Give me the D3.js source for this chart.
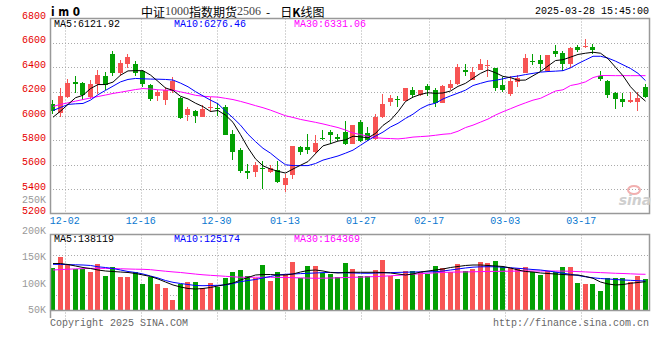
<!DOCTYPE html>
<html><head><meta charset="utf-8">
<script src="https://cdn.jsdelivr.net/npm/d3@7"></script>
<style>body{margin:0;background:#fff}svg{display:block}</style>
</head><body><svg id="c" width="660" height="360"></svg>
<script>
const dates = ["11-28","11-29","12-02","12-03","12-04","12-05","12-06","12-09","12-10","12-11",
"12-12","12-13","12-16","12-17","12-18","12-19","12-20","12-23","12-24","12-25",
"12-26","12-27","12-30","12-31","01-02","01-03","01-06","01-07","01-08","01-09",
"01-10","01-13","01-14","01-15","01-16","01-17","01-20","01-21","01-22","01-23",
"01-24","01-27","02-05","02-06","02-07","02-10","02-11","02-12","02-13","02-14",
"02-17","02-18","02-19","02-20","02-21","02-24","02-25","02-26","02-27","02-28",
"03-03","03-04","03-05","03-06","03-07","03-10","03-11","03-12","03-13","03-14",
"03-17","03-18","03-19","03-20","03-21","03-24","03-25","03-26","03-27","03-28"];
const open = [6098,6027,6152,6279,6271,6157,6261,6326,6505,6352,
6423,6423,6369,6252,6163,6130,6206,6147,6012,6043,
5994,6063,6065,6076,5851,5723,5552,5538,5574,5540,
5560,5434,5512,5742,5742,5703,5821,5866,5825,5866,
5772,5954,5859,5810,5989,6116,6142,6125,6217,6171,
6244,6212,6108,6226,6261,6380,6299,6380,6407,6396,
6252,6179,6279,6352,6450,6462,6369,6532,6515,6429,
6564,6564,6570,6326,6287,6190,6136,6116,6116,6234];
const high = [6130,6226,6300,6326,6279,6293,6374,6358,6537,6462,
6505,6450,6377,6266,6217,6239,6320,6157,6073,6051,
6090,6155,6103,6090,5886,5737,5609,5626,5628,5601,
5631,5524,5757,5753,5852,5845,5886,5884,5851,5959,
5930,5967,5908,6016,6179,6171,6163,6228,6234,6217,
6266,6226,6252,6299,6423,6423,6401,6470,6462,6396,
6320,6326,6334,6505,6505,6497,6497,6586,6532,6570,
6586,6633,6592,6369,6299,6198,6185,6198,6198,6266];
const low = [6016,5989,6150,6187,6130,6136,6183,6212,6332,6326,
6396,6326,6242,6122,6122,6090,6191,5973,5962,5945,
5992,6035,6002,5845,5638,5534,5479,5503,5398,5534,
5452,5377,5479,5682,5685,5685,5805,5772,5792,5764,
5768,5788,5791,5805,5985,6081,6076,6122,6144,6163,
6163,6071,6108,6217,6252,6326,6297,6374,6320,6206,
6198,6163,6234,6352,6415,6369,6369,6483,6369,6396,
6523,6559,6505,6287,6144,6055,6071,6108,6043,6144];
const close = [6043,6163,6271,6266,6171,6261,6334,6258,6352,6434,
6483,6352,6266,6136,6198,6216,6287,5984,6059,6000,
6055,6076,6057,5848,5703,5552,5534,5601,5566,5571,
5457,5493,5757,5703,5721,5780,5813,5848,5810,5770,
5927,5791,5805,5994,6098,6144,6134,6226,6171,6212,
6212,6108,6244,6261,6401,6361,6361,6429,6415,6228,
6212,6287,6315,6478,6440,6429,6497,6505,6429,6559,
6543,6578,6543,6307,6171,6136,6116,6130,6144,6152];
const ma5 = [5990,6040,6095,6150,6170,6225,6258,6258,6278,6335,
6370,6372,6372,6336,6284,6230,6210,6162,6140,6105,
6077,6037,6045,6007,5948,5847,5739,5648,5591,5565,
5546,5532,5565,5596,5626,5691,5755,5773,5794,5804,
5834,5829,5821,5857,5923,5966,6035,6119,6155,6177,
6191,6186,6189,6205,6243,6268,6310,6350,6378,6355,
6325,6315,6293,6295,6330,6365,6410,6455,6462,6483,
6505,6515,6523,6515,6470,6400,6330,6240,6175,6122];
const ma10 = [6045,6070,6095,6100,6103,6130,6175,6210,6245,6280,
6300,6308,6305,6303,6302,6300,6295,6270,6240,6200,
6165,6130,6100,6040,5985,5925,5850,5790,5735,5695,
5645,5600,5593,5593,5593,5610,5638,5655,5672,5695,
5720,5760,5800,5835,5868,5910,5940,5980,6015,6060,
6090,6105,6140,6165,6188,6212,6250,6268,6285,6293,
6305,6320,6328,6340,6350,6360,6365,6368,6372,6395,
6430,6460,6490,6490,6475,6450,6420,6390,6350,6290];
const ma30 = [6078,6095,6108,6122,6135,6148,6160,6172,6185,6195,
6206,6217,6225,6222,6215,6212,6212,6198,6185,6170,
6162,6158,6155,6145,6135,6120,6103,6085,6068,6048,
6025,6002,5988,5972,5960,5948,5935,5920,5905,5885,
5860,5848,5833,5822,5817,5815,5812,5818,5827,5831,
5835,5842,5850,5855,5875,5905,5925,5950,5975,6008,
6035,6060,6085,6108,6130,6145,6175,6205,6215,6250,
6262,6280,6315,6332,6332,6331,6331,6331,6331,6331];
const volume = [130900,151600,137300,128500,128500,123400,137900,115900,132200,114000,
114000,122300,100300,114000,100300,93300,70100,99700,104600,104600,
92200,102100,95200,111000,123400,126600,115300,111000,136000,106500,
123400,119100,142200,111000,134100,134100,120400,118500,114000,140300,
128500,115300,115300,126600,145400,115300,109700,124700,124700,122300,
118500,134100,130900,123400,137900,124700,128500,141700,140300,143500,
132800,129800,129800,132800,122300,117200,124700,123400,132200,132200,
102100,100300,100300,87100,111000,111000,111000,103400,115300,109700];
const vma5 = [138800,138800,136900,134100,131300,129400,126600,124700,123800,122800,
121900,120000,117200,114400,109700,104000,98400,94600,91800,90800,
91800,93700,96500,99300,102100,107800,112500,117200,118100,118100,
117200,117200,119100,122800,125700,126600,124700,121900,121000,121900,
122300,122300,122300,122300,121900,121000,119100,117200,119100,122800,
124700,126600,128500,131300,133200,135100,136000,136000,135100,134100,
133200,130400,126600,123800,122800,121000,120000,119100,118100,117200,
117200,114400,111000,104000,100300,98400,99300,101600,103100,104600];
const vma10 = [137300,137100,136700,136400,136000,135100,132600,131300,129400,126600,
123800,121900,119100,115300,111600,106800,103400,101200,99300,97400,
97100,97400,97800,98400,101200,104600,106800,108700,111600,114400,
117500,118500,119100,119800,120400,121000,121700,122100,121700,121300,
121000,120600,120400,120800,121300,121700,122100,122400,122800,123000,
123200,123400,124700,126600,128500,130400,131900,132600,132800,132600,
131900,130900,129800,128700,127500,126600,124700,122800,120600,118500,
116300,113800,111900,110600,109700,108700,107800,107200,106400,105900];
const vma30 = [126600,127400,128100,128700,129200,129600,129800,129600,129200,128900,
128500,128100,127900,127200,125700,124300,123000,121900,120400,118900,
117600,116600,115700,114700,113800,113000,112900,112900,112900,112900,
112700,112500,112100,111700,111400,111000,111200,111500,111900,112500,
112900,113200,113800,114200,114900,115700,116600,117600,118700,119600,
120600,121300,122100,122500,122800,123000,123200,123600,123800,124000,
124200,124300,124500,124700,124700,124700,124700,124700,124500,124200,
123600,123000,122300,121700,121100,120400,120000,119400,118800,118500];
const priceTicks = [6800,6600,6400,6200,6000,5800,5600,5400,5200];
const volTicks = [200000,150000,100000,50000];
const volTickLabels = ["200K","150K","100K","50K"];
const dateTicks = ["12-02","12-16","12-30","01-13","01-27","02-17","03-03","03-17"];
const priceLegend = [["MA5:6121.92","#000"],["MA10:6276.46","#0000ff"],["MA30:6331.06","#ff00ff"]];
const volLegend = [["MA5:138119","#000"],["MA10:125174","#0000ff"],["MA30:164369","#ff00ff"]];

const N = dates.length;
const svg = d3.select("#c");
const MONO = "'Liberation Mono','DejaVu Sans Mono',monospace";
const UP = "#f75454", DOWN = "#03a003", GRID = "#aaa", FRAME = "#999";
const L = 50, R = 650, pTop = 18.5, pBot = 213.5, vTop = 234.5, vBase = 310.5;

const x = d3.scaleBand().domain(d3.range(N)).range([49.25, 649.25]).paddingInner(0.2).paddingOuter(0.1);
const gx = d3.scaleLinear().domain([0, N - 1]).range([49.5, 649.5]);
const y = d3.scaleLinear().domain([5200, 6800]).range([pBot, pTop]);
const vy = d3.scaleLinear().domain([50000, 200000]).range([310.7, 231]);
const cx = i => x(i) + x.bandwidth() / 2;

svg.append("rect").attr("width", 660).attr("height", 360).attr("fill", "#fff");

const g = svg.append("g");
g.selectAll(".hg").data(priceTicks.slice(1, -1)).join("line")
  .attr("x1", L).attr("x2", R)
  .attr("y1", d => Math.round(y(d)) + 0.5).attr("y2", d => Math.round(y(d)) + 0.5)
  .attr("stroke", GRID).attr("stroke-dasharray", "1,2");
const tickIdx = dateTicks.map(d => dates.indexOf(d));
g.selectAll(".vg").data(tickIdx).join("line")
  .attr("x1", d => Math.round(gx(d)) + 0.5).attr("x2", d => Math.round(gx(d)) + 0.5)
  .attr("y1", pTop).attr("y2", pBot)
  .attr("stroke", GRID).attr("stroke-dasharray", "1,2");
g.selectAll(".vg2").data(tickIdx).join("line")
  .attr("x1", d => Math.round(gx(d)) + 0.5).attr("x2", d => Math.round(gx(d)) + 0.5)
  .attr("y1", vTop).attr("y2", 320)
  .attr("stroke", GRID).attr("stroke-dasharray", "1,2");
g.selectAll(".hg2").data([vTop + 21, vTop + 61]).join("line")
  .attr("x1", L).attr("x2", R).attr("y1", d => d).attr("y2", d => d)
  .attr("stroke", GRID).attr("stroke-dasharray", "1,2");

const idx = d3.range(N);
const cg = svg.append("g");
const col = i => close[i] >= open[i] ? UP : DOWN;
cg.selectAll(".wick").data(idx).join("rect")
  .attr("x", i => Math.round(x(i)) + 2).attr("width", 1)
  .attr("y", i => Math.round(y(high[i])))
  .attr("height", i => Math.max(1, Math.round(y(low[i])) - Math.round(y(high[i]))))
  .attr("fill", col);
cg.selectAll(".body").data(idx).join("rect")
  .attr("x", i => Math.round(x(i))).attr("width", Math.round(x.bandwidth()) - 1)
  .attr("y", i => Math.round(y(Math.max(open[i], close[i]))))
  .attr("height", i => Math.max(1, Math.round(y(Math.min(open[i], close[i]))) - Math.round(y(Math.max(open[i], close[i])))))
  .attr("fill", col);

const line = arr => d3.line().x((d, i) => cx(i)).y(d => y(d))(arr);
[[ma30, "#ff00ff"], [ma10, "#0000ff"], [ma5, "#000"]].forEach(([a, c]) => {
  svg.append("path").attr("d", line(a)).attr("fill", "none").attr("stroke", c).attr("stroke-width", 1);
});

svg.append("g").selectAll("rect").data(idx).join("rect")
  .attr("x", i => Math.round(x(i))).attr("width", Math.round(x.bandwidth()) - 1)
  .attr("y", i => Math.round(vy(volume[i])))
  .attr("height", i => vBase - Math.round(vy(volume[i])))
  .attr("fill", col);
const vline = arr => d3.line().x((d, i) => cx(i)).y(d => vy(d))(arr);
[[vma30, "#ff00ff"], [vma10, "#0000ff"], [vma5, "#000"]].forEach(([a, c]) => {
  svg.append("path").attr("d", vline(a)).attr("fill", "none").attr("stroke", c).attr("stroke-width", 1);
});

svg.append("rect").attr("x", L + 0.5).attr("y", pTop).attr("width", R - L - 1).attr("height", pBot - pTop)
  .attr("fill", "none").attr("stroke", FRAME).attr("stroke-width", 1.5);
svg.append("rect").attr("x", L + 0.5).attr("y", vTop).attr("width", R - L - 1).attr("height", vBase - vTop)
  .attr("fill", "none").attr("stroke", FRAME).attr("stroke-width", 1.5);
svg.append("line").attr("x1", L + 0.5).attr("x2", L + 0.5).attr("y1", vBase).attr("y2", 318).attr("stroke", FRAME).attr("stroke-width", 1.5);

svg.append("g").selectAll("text").data(priceTicks).join("text")
  .attr("x", 46).attr("y", d => y(d) - 2).attr("text-anchor", "end").attr("dominant-baseline", "central")
  .attr("font-family", MONO).attr("font-size", 10).attr("fill", "#e60000").text(d => d);
svg.append("text").attr("x", 46).attr("y", 200).attr("text-anchor", "end").attr("dominant-baseline", "central")
  .attr("font-family", MONO).attr("font-size", 10).attr("fill", "#999").text("250K");
svg.append("g").selectAll("text").data(volTicks).join("text")
  .attr("x", 46).attr("y", d => vy(d)).attr("text-anchor", "end").attr("dominant-baseline", "central")
  .attr("font-family", MONO).attr("font-size", 10).attr("fill", "#999").text((d, i) => volTickLabels[i]);
svg.append("g").selectAll("text").data(tickIdx).join("text")
  .attr("x", d => gx(d)).attr("y", 221).attr("text-anchor", "middle").attr("dominant-baseline", "central")
  .attr("font-family", MONO).attr("font-size", 10).attr("fill", "#0a78d0").text(d => dates[d]);

const legX = [54, 174, 294];
svg.append("g").selectAll("text").data(priceLegend).join("text")
  .attr("x", (d, i) => legX[i]).attr("y", 24).attr("dominant-baseline", "central")
  .attr("font-family", MONO).attr("font-size", 10).attr("fill", d => d[1]).text(d => d[0]);
svg.append("g").selectAll("text").data(volLegend).join("text")
  .attr("x", (d, i) => legX[i]).attr("y", 239).attr("dominant-baseline", "central")
  .attr("font-family", MONO).attr("font-size", 10).attr("fill", d => d[1]).text(d => d[0]);

svg.append("text").attr("x", 51).attr("y", 11.5).attr("dominant-baseline", "central")
  .attr("font-family", "'DejaVu Sans',sans-serif").attr("font-weight", "bold").attr("font-size", 12)
  .attr("textLength", 29).attr("lengthAdjust", "spacingAndGlyphs").attr("fill", "#000").text("i m 0");
const t = svg.append("text").attr("x", 141).attr("y", 10.5).attr("dominant-baseline", "central")
  .attr("font-family", "'Noto Sans CJK SC',sans-serif").attr("font-size", 12).attr("fill", "#000");
t.append("tspan").text("中证");
t.append("tspan").attr("font-family", "'Liberation Serif',serif").attr("fill", "#444").text("1000");
t.append("tspan").text("指数期货");
t.append("tspan").attr("font-family", "'Liberation Serif',serif").attr("fill", "#444").text("2506");
t.append("tspan").attr("dx", 5).text("-");
t.append("tspan").attr("dx", 10).text("日");
t.append("tspan").attr("font-weight", "bold").text("K");
t.append("tspan").text("线图");
svg.append("text").attr("x", 649).attr("y", 11.5).attr("text-anchor", "end").attr("dominant-baseline", "central")
  .attr("font-family", MONO).attr("font-size", 10).attr("fill", "#000").text("2025-03-28 15:45:00");

svg.append("text").attr("x", 50).attr("y", 323.5).attr("dominant-baseline", "central")
  .attr("font-family", MONO).attr("font-size", 10).attr("fill", "#666").text("Copyright 2025 SINA.COM");
svg.append("text").attr("x", 649).attr("y", 323.5).attr("text-anchor", "end").attr("dominant-baseline", "central")
  .attr("font-family", MONO).attr("font-size", 10).attr("fill", "#666").text("http://finance.sina.com.cn");

svg.append("ellipse").attr("cx", 634).attr("cy", 190).attr("rx", 6).attr("ry", 4)
  .attr("fill", "none").attr("stroke", "#f2b0b0").attr("stroke-width", 2);
svg.append("text").attr("x", 635).attr("y", 200).attr("text-anchor", "middle").attr("dominant-baseline", "central")
  .attr("font-family", "'DejaVu Sans',sans-serif").attr("font-style", "italic").attr("font-weight", "bold")
  .attr("font-size", 14).attr("fill", "#cfcfcf").text("sina");
</script></body></html>
